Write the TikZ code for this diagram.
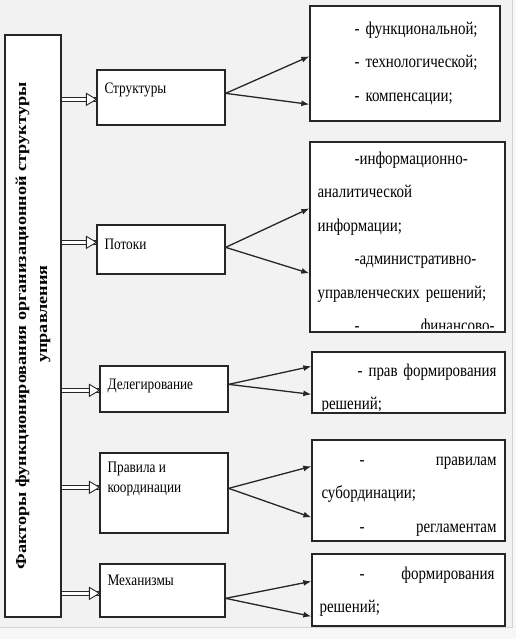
\documentclass[tikz,border=0pt]{standalone}
\usepackage{fontspec}
\setmainfont{Liberation Serif}[FakeStretch=0.83]
\newfontfamily\sidefont{Liberation Serif}[FakeStretch=1.2]
\usetikzlibrary{arrows.meta,calc,positioning,decorations.markings}
\definecolor{PageClr}{HTML}{F2F2F2}
\definecolor{EdgeClr}{HTML}{D4D4D4}
\definecolor{LineClr}{HTML}{262626}

\begin{document}
\begin{tikzpicture}[x=1pt,y=-1pt,
  box/.style={draw=LineClr,line width=1.3pt,fill=white,inner sep=0pt},
  fan/.style={draw=LineClr,line width=1.3pt,-{Latex[length=8pt,width=6pt]}},
  dblhead/.style={decoration={markings,mark=at position 1 with
    {\filldraw[draw=LineClr,fill=white,line width=0.9pt] (-10pt,-6pt) -- (0pt,0pt) -- (-10pt,6pt) -- cycle;}}},
  dbl/.style={draw=LineClr,double=white,double distance=2.6pt,line width=0.9pt,
    postaction={dblhead,decorate}},
  midtxt/.style={font=\fontsize{16}{20}\selectfont,anchor=west,inner sep=0pt,align=left},
  rtxt/.style={font=\fontsize{18}{33.5}\selectfont,anchor=north west,inner sep=0pt,align=left}]

\useasboundingbox (0,0) rectangle (516,639);
\fill[white!97!black] (0,0) rectangle (516,639);
\filldraw[fill=PageClr,draw=EdgeClr,line width=1pt] (-1,-1) rectangle (512,627);

\node[box,rotate=90,minimum width=582pt,minimum height=56pt,align=center,
  font=\sidefont\fontsize{15.2}{21}\selectfont\bfseries] (fac) at (33,326)
  {Факторы функционирования организационной структуры\\\hspace*{24pt}управления};

\node[box,minimum width=128pt,minimum height=55pt] (m1) at (161,97.5) {};
\node[box,minimum width=128pt,minimum height=49pt] (m2) at (161,249.5) {};
\node[box,minimum width=128pt,minimum height=46pt] (m3) at (164,389) {};
\node[box,minimum width=128pt,minimum height=80pt] (m4) at (164,493) {};
\node[box,minimum width=125pt,minimum height=53pt] (m5) at (162.5,590.5) {};

\node[midtxt] (m1t) at ($(m1.north west)+(8,21)$) {Структуры};
\node[midtxt] (m2t) at ($(m2.north west)+(8,20)$) {Потоки};
\node[midtxt] (m3t) at ($(m3.north west)+(8,21)$) {Делегирование};
\node[midtxt,anchor=north west] (m4t) at ($(m4.north west)+(8,9)$) {Правила и\\координации};
\node[midtxt] (m5t) at ($(m5.north west)+(8,17)$) {Механизмы};

\node[box,minimum width=190pt,minimum height=115pt] (r1) at (405,63.5) {};
\node[box,minimum width=195pt,minimum height=190pt] (r2) at (407.5,237) {};
\node[box,minimum width=193pt,minimum height=61pt] (r3) at (408.5,382.5) {};
\node[box,minimum width=193pt,minimum height=101pt] (r4) at (408.5,490.5) {};
\node[box,minimum width=193pt,minimum height=72pt] (r5) at (408.5,590) {};

\node[rtxt,text width=177pt] (r1t) at ($(r1.north west)+(8,16)$)
  {\hspace*{37pt}- функциональной;\\\hspace*{37pt}- технологической;\\\hspace*{37pt}- компенсации;};
\begin{scope}
\clip ($(r2.north west)+(1,1)$) rectangle ($(r2.south east)+(-1,-4)$);
\node[rtxt,text width=177pt] (r2t) at ($(r2.north west)+(8,10)$)
  {\hspace*{37pt}-информационно-\\аналитической\\информации;\\\hspace*{37pt}-административно-\\управленческих решений;\\\hspace*{37pt}-\hfill финансово-};
\end{scope}
\begin{scope}
\clip ($(r3.north west)+(1,1)$) rectangle ($(r3.south east)+(-1,-3)$);
\node[rtxt,text width=175pt] (r3t) at ($(r3.north west)+(10,12)$)
  {\hspace*{36pt}- прав\hfill формирования\\решений;};
\end{scope}
\node[rtxt,text width=175pt] (r4t) at ($(r4.north west)+(10,17)$)
  {\hspace*{38pt}-\hfill правилам\\субординации;\\\hspace*{38pt}-\hfill регламентам};
\node[rtxt,text width=175pt] (r5t) at ($(r5.north west)+(8,13)$)
  {\hspace*{40pt}-\hfill формирования\\решений;};

\draw[dbl] (fac.south |- {$(m1.north west)+(0,30)$}) -- ($(m1.north west)+(0,30)$);
\draw[dbl] (fac.south |- {$(m2.north west)+(0,18)$}) -- ($(m2.north west)+(0,18)$);
\draw[dbl] (fac.south |- {$(m3.north west)+(0,25)$}) -- ($(m3.north west)+(0,25)$);
\draw[dbl] (fac.south |- {$(m4.north west)+(0,35)$}) -- ($(m4.north west)+(0,35)$);
\draw[dbl] (fac.south |- {$(m5.north west)+(0,30)$}) -- ($(m5.north west)+(0,30)$);

\coordinate (o1) at ($(m1.north east)+(0,24)$);
\coordinate (o2) at ($(m2.north east)+(0,23)$);
\coordinate (o3) at ($(m3.north east)+(0,19)$);
\coordinate (o4) at ($(m4.north east)+(0,36)$);
\coordinate (o5) at ($(m5.north east)+(0,35)$);

\draw[fan] (o1) -- ($(r1.north west)+(0,51)$);
\draw[fan] (o1) -- ($(r1.north west)+(0,99)$);
\draw[fan] (o2) -- ($(r2.north west)+(0,67)$);
\draw[fan] (o2) -- ($(r2.north west)+(0,132)$);
\draw[fan] (o3) -- ($(r3.north west)+(0,15)$);
\draw[fan] (o3) -- ($(r3.north west)+(0,43)$);
\draw[fan] (o4) -- ($(r4.north west)+(0,27)$);
\draw[fan] (o4) -- ($(r4.north west)+(0,78)$);
\draw[fan] (o5) -- ($(r5.north west)+(0,28)$);
\draw[fan] (o5) -- ($(r5.north west)+(0,63)$);

\end{tikzpicture}
\end{document}
